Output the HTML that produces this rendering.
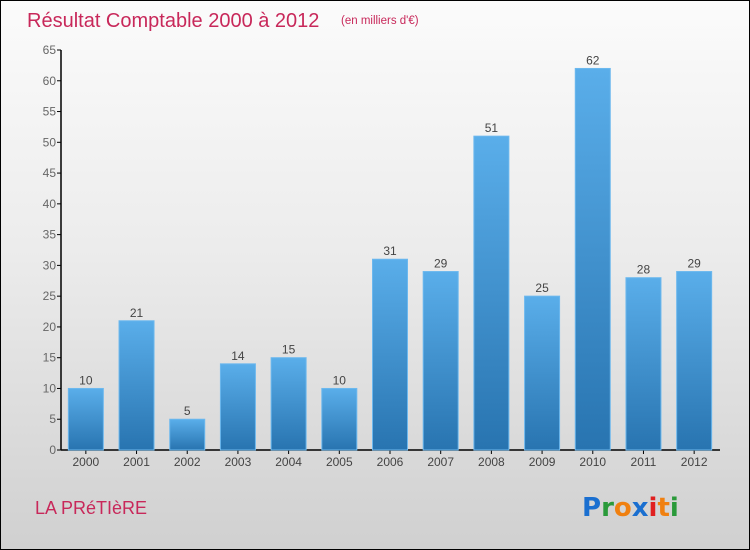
<!DOCTYPE html>
<html><head><meta charset="utf-8"><style>
body{margin:0;}
#c{position:relative;width:750px;height:550px;box-sizing:border-box;border:1px solid #000;background:linear-gradient(#fbfbfb 0%,#ececec 45%,#d0d0d0 100%);font-family:"Liberation Sans",sans-serif;overflow:hidden;}
</style></head><body>
<div id="c">
<svg width="750" height="550" style="position:absolute;left:-1px;top:-1px">
<defs><linearGradient id="bg" x1="0" y1="0" x2="0" y2="1"><stop offset="0" stop-color="#5aaeea"/><stop offset="1" stop-color="#2874b0"/></linearGradient></defs>
<text x="27" y="27" font-size="20" fill="#c8285a">Résultat Comptable 2000 à 2012</text>
<text x="341" y="24" font-size="11.5" fill="#c8285a">(en milliers d'€)</text>
<g id="axes"></g><g id="bars"></g>
<text x="35" y="514" font-size="18" fill="#c8285a">LA PRéTIèRE</text>
<text x="582" y="516" font-size="26" font-weight="bold" font-family="'DejaVu Sans',sans-serif"><tspan fill="#1a6fd0">P</tspan><tspan fill="#2a9a3a">r</tspan><tspan fill="#f08010">o</tspan><tspan fill="#1a6fd0">x</tspan><tspan fill="#e02020">i</tspan><tspan fill="#f08010">t</tspan><tspan fill="#2a9a3a">i</tspan></text>
</svg>
</div>
<script>
const categories=["2000","2001","2002","2003","2004","2005","2006","2007","2008","2009","2010","2011","2012"];
const values=[10,21,5,14,15,10,31,29,51,25,62,28,29];
const yTicks=[0,5,10,15,20,25,30,35,40,45,50,55,60,65];
const NS="http://www.w3.org/2000/svg";
const x0=61,x1=720,y0=450,y1=50,yMax=65;
const yS=v=>y0-(v/yMax)*(y0-y1);
const step=(x1-x0)/categories.length;
const xC=i=>x0+step*(i+0.5)-0.5;
function mk(t,a,p){const e=document.createElementNS(NS,t);for(const k in a)e.setAttribute(k,a[k]);p.appendChild(e);return e;}
const ax=document.getElementById('axes'),bg=document.getElementById('bars');
let l=mk('line',{x1:x0,y1:y1,x2:x0,y2:y0,stroke:'#000','stroke-width':1.5},ax);


l=mk('line',{x1:x0,y1:y0,x2:x1,y2:y0,stroke:'#000','stroke-width':1.5},ax);


yTicks.forEach(v=>{const y=yS(v);
 const tk=mk('line',{x1:x0-4,y1:y,x2:x0,y2:y,stroke:'#000'},ax);
 
 
 const t=mk('text',{x:x0-5,y:y+4,'font-size':12,fill:'#666','text-anchor':'end'},ax);t.textContent=v;
 
 
});
categories.forEach((c,i)=>{const cx=xC(i),v=values[i],w=35;
 const r=mk('rect',{x:cx-w/2,y:yS(v),width:w,height:y0-yS(v),fill:'url(#bg)',stroke:'#6cb8ee','stroke-width':1},bg);
 
 
 const t=mk('text',{x:cx,y:yS(v)-4,'font-size':12,fill:'#444','text-anchor':'middle'},bg);t.textContent=v;
 
 
 const tk=mk('line',{x1:cx,y1:y0,x2:cx,y2:y0+4,stroke:'#000'},ax);
 
 
 const xl=mk('text',{x:cx,y:466,'font-size':12,fill:'#444','text-anchor':'middle'},ax);xl.textContent=c;
 
 
});
</script>
</body></html>
